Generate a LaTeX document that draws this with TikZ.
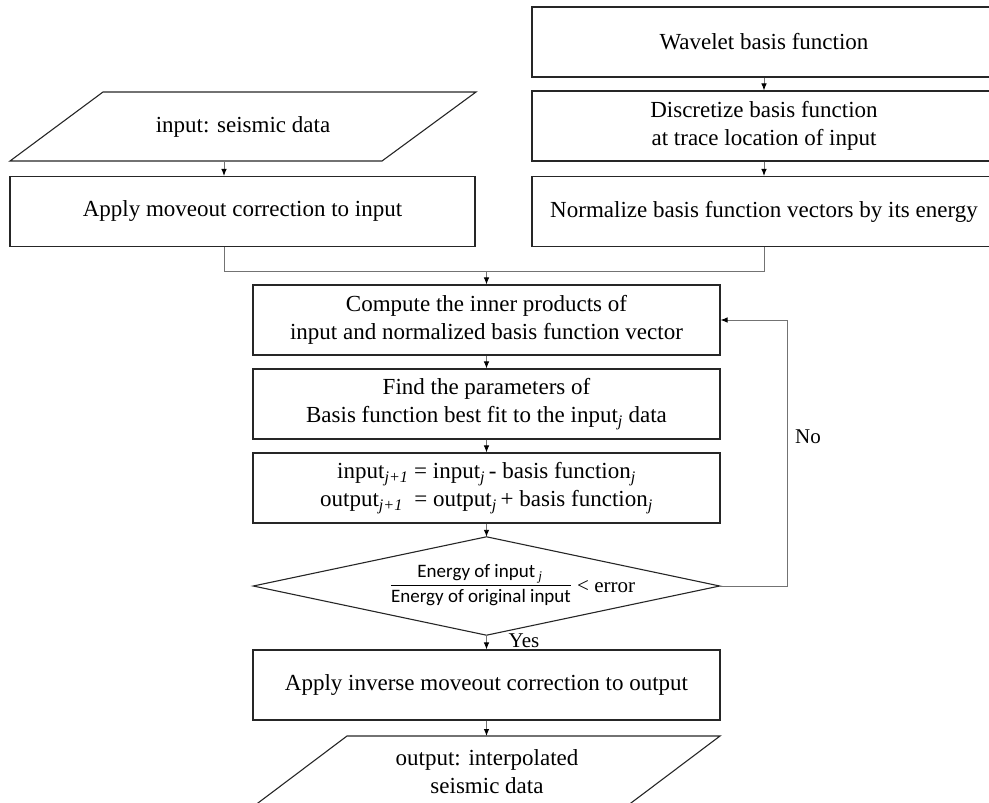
\documentclass[tikz,border=0pt]{standalone}
\usepackage{fontspec}
\setmainfont{Liberation Serif}
\newfontfamily\calib{Carlito}
\usetikzlibrary{arrows.meta,calc}
\begin{document}
\begin{tikzpicture}[x=1pt,y=-1pt,
  boxline/.style={draw=black!85,line width=1.1pt,line join=miter},
  box/.style={boxline,minimum height=70pt,align=center,inner sep=0pt,font=\fontsize{23}{28}\selectfont},
  txt/.style={align=center,inner sep=0pt,font=\fontsize{23}{28}\selectfont},
  ln/.style={draw=black!55,line width=0.9pt},
  arr/.style={ln,-{Latex[length=7pt,width=5.5pt,color=black]}},
  lbl/.style={inner sep=0pt,font=\fontsize{21}{25}\selectfont},
  frac/.style={inner sep=0pt,font=\calib\fontsize{19}{22}\selectfont}]
\useasboundingbox (0,0) rectangle (989,803);
\clip (0,0) rectangle (989,803);

% left column
\node[txt] (in) at (243,127) {input: seismic data};
\draw[boxline] (103,92) -- (476,92) -- (382,161) -- (10,161) -- cycle;
\node[box,minimum width=465pt] (mv) at (242.5,211.5) {Apply moveout correction to input};

% right column
\node[box,minimum width=464pt] (wv) at (764,42) {Wavelet basis function};
\node[box,minimum width=464pt] (dz) at (764,126) {Discretize basis function\\at trace location of input};
\node[box,minimum width=464pt] (nm) at (764,211.5) {Normalize basis function vectors by its energy};

% central column
\node[box,minimum width=467pt] (cp) at (486.5,320) {Compute the inner products of\\input and normalized basis function vector};
\node[box,minimum width=467pt] (fd) at (486.5,404) {Find the parameters of\\Basis function best fit to the input\textsubscript{\itshape j} data};
\node[box,minimum width=467pt] (up) at (486.5,488) {input\textsubscript{\itshape j+1} = input\textsubscript{\itshape j}\,- basis function\textsubscript{\itshape j}\\output\textsubscript{\itshape j+1}\ \ = output\textsubscript{\itshape j}\,+ basis function\textsubscript{\itshape j}};

% decision
\node[minimum width=466pt,minimum height=98pt,inner sep=0pt] (dm) at (486.5,586) {};
\draw[boxline] (dm.north) -- (dm.east) -- (dm.south) -- (dm.west) -- cycle;
\node[frac] (num) at (480,574) {Energy of input\,$_{\mathit{j}}$};
\node[frac] (den) at (481,598) {Energy of original input};
\draw[line width=0.8pt] ($(den.north west)+(0,-4)$) -- ($(den.north east)+(0,-4)$);
\node[lbl,anchor=west] (err) at (577,587) {< error};

\node[box,minimum width=467pt] (ai) at (486.5,685) {Apply inverse moveout correction to output};

% output parallelogram
\node[txt] (out) at (487,771.5) {output: interpolated\\seismic data};
\draw[boxline] (347,736) -- (720,736) -- (627,806) -- (254,806) -- cycle;

% connectors
\coordinate (inb) at (224,161);
\coordinate (jn) at (486.5,271);
\coordinate (outt) at (486.5,736);
\coordinate (fb) at (787,586);
\draw[arr] (inb) -- (inb |- mv.north);
\draw[arr] (wv.south) -- (dz.north);
\draw[arr] (dz.south) -- (nm.north);
\draw[ln] (inb |- mv.south) |- (jn);
\draw[ln] (nm.south) |- (jn);
\draw[arr] (jn) -- (cp.north);
\draw[arr] (cp.south) -- (fd.north);
\draw[arr] (fd.south) -- (up.north);
\draw[arr] (up.south) -- (dm.north);
\draw[arr] (dm.south) -- (ai.north);
\draw[arr] (ai.south) -- (outt);
\draw[arr] (dm.east) -- (fb) |- (cp.east);
\node[lbl] (yes) at (524,641) {Yes};
\node[lbl] (no) at (808,437) {No};
\end{tikzpicture}
\end{document}
